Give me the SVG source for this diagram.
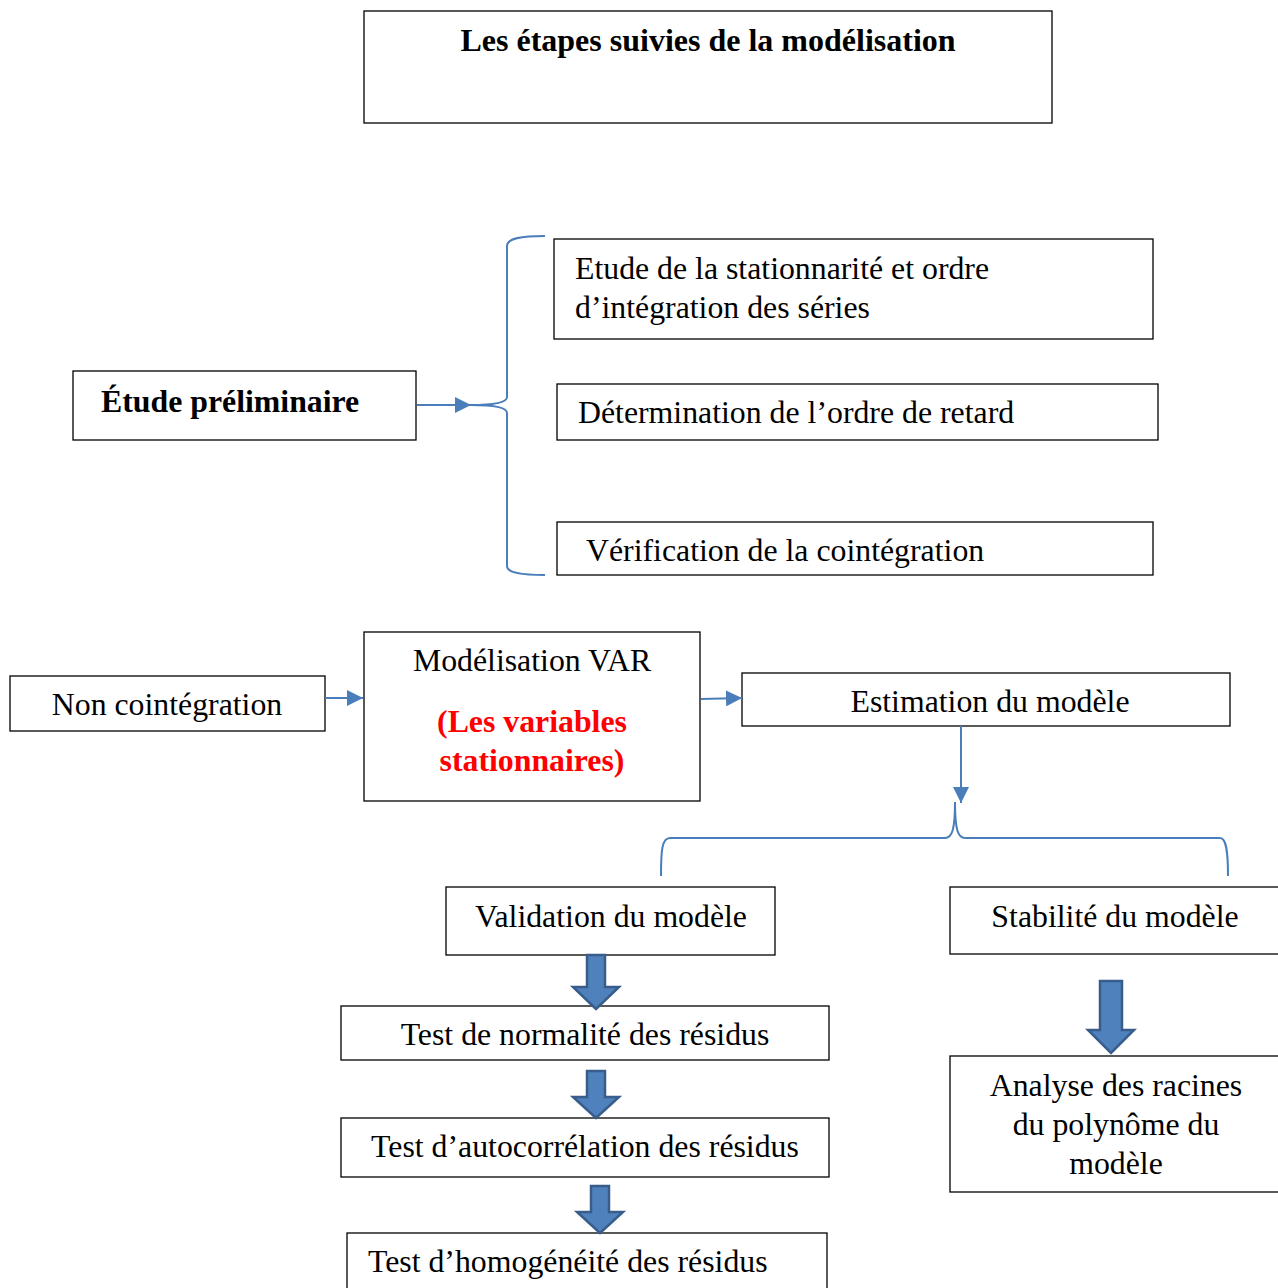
<svg xmlns="http://www.w3.org/2000/svg" width="1278" height="1288" viewBox="0 0 1278 1288">
<defs>
<style>
.box{fill:#fff;stroke:#000;stroke-width:1.3}
.t{font-family:"Liberation Serif","Times New Roman",serif;font-size:31.8px;fill:#000}
.b{font-weight:bold}
.c{text-anchor:middle}
.red{fill:#ff0000;font-weight:bold}
.con{fill:none;stroke:#4a7ebb;stroke-width:2}
.blk{fill:#4f81bd;stroke:#385d8a;stroke-width:2.5;stroke-linejoin:miter}
</style>
<marker id="ah" viewBox="0 0 16 16" refX="16" refY="8" markerWidth="16" markerHeight="16" markerUnits="userSpaceOnUse" orient="auto">
<path d="M0,0 L16,8 L0,16 Z" fill="#4a7ebb"/>
</marker>
</defs>
<rect width="1278" height="1288" fill="#fff"/>

<g id="title">
<rect class="box" x="364" y="11" width="688" height="112"/>
<text class="t b c" x="708" y="51" style="font-size:32px">Les étapes suivies de la modélisation</text>
</g>

<g id="etude-preliminaire">
<rect class="box" x="73" y="371" width="343" height="69"/>
<text class="t b" x="101" y="412" style="font-size:31.8px">Étude préliminaire</text>
</g>

<g id="stationnarite">
<rect class="box" x="554" y="239" width="599" height="100"/>
<text class="t" x="575" y="279">Etude de la stationnarité et ordre</text>
<text class="t" x="575" y="318">d’intégration des séries</text>
</g>

<g id="determination">
<rect class="box" x="557" y="384" width="601" height="56"/>
<text class="t" x="578" y="423">Détermination de l’ordre de retard</text>
</g>

<g id="verification">
<rect class="box" x="557" y="522" width="596" height="53"/>
<text class="t" x="586" y="561">Vérification de la cointégration</text>
</g>

<g id="non-cointegration">
<rect class="box" x="10" y="676" width="315" height="55"/>
<text class="t c" x="167" y="715">Non cointégration</text>
</g>

<g id="modelisation-var">
<rect class="box" x="364" y="632" width="336" height="169"/>
<text class="t c" x="532" y="671">Modélisation VAR</text>
<text class="t c red" x="532" y="732">(Les variables</text>
<text class="t c red" x="532" y="771">stationnaires)</text>
</g>

<g id="estimation">
<rect class="box" x="742" y="673" width="488" height="53"/>
<text class="t c" x="990" y="712">Estimation du modèle</text>
</g>

<g id="validation">
<rect class="box" x="446" y="887" width="329" height="68"/>
<text class="t c" x="611" y="927">Validation du modèle</text>
</g>

<g id="stabilite">
<rect class="box" x="950" y="887" width="340" height="67"/>
<text class="t c" x="1115" y="927">Stabilité du modèle</text>
</g>

<g id="normalite">
<rect class="box" x="341" y="1006" width="488" height="54"/>
<text class="t c" x="585" y="1045">Test de normalité des résidus</text>
</g>

<g id="autocorrelation">
<rect class="box" x="341" y="1118" width="488" height="59"/>
<text class="t c" x="585" y="1157">Test d’autocorrélation des résidus</text>
</g>

<g id="homogeneite">
<rect class="box" x="347" y="1233" width="480" height="70"/>
<text class="t" x="368" y="1272">Test d’homogénéité des résidus</text>
</g>

<g id="analyse">
<rect class="box" x="950" y="1056" width="340" height="136"/>
<text class="t c" x="1116" y="1096">Analyse des racines</text>
<text class="t c" x="1116" y="1135">du polynôme du</text>
<text class="t c" x="1116" y="1174">modèle</text>
</g>

<g id="connectors">
<line class="con" x1="417" y1="405" x2="471" y2="405" marker-end="url(#ah)"/>
<path class="con" d="M545,236 C522,236 507,238 507,246 L507,397 C507,403 492,405 471,405 C492,405 507,407 507,413 L507,566 C507,573 522,575 545,575"/>
<line class="con" x1="325" y1="698" x2="363" y2="698" marker-end="url(#ah)"/>
<line class="con" x1="701" y1="699" x2="742" y2="698" marker-end="url(#ah)"/>
<line class="con" x1="961" y1="726" x2="961" y2="803" marker-end="url(#ah)"/>
<path class="con" d="M661,876 C661,850 662,838 670,838 L945,838 C952,838 955,830 955,802 C955,830 958,838 965,838 L1220,838 C1226,838 1228,850 1228,876"/>
<path class="blk" d="M587,955 L605,955 L605,987 L619,987 L596,1009 L573,987 L587,987 Z"/>
<path class="blk" d="M587,1071 L605,1071 L605,1097 L619,1097 L596,1118 L573,1097 L587,1097 Z"/>
<path class="blk" d="M591,1186 L609,1186 L609,1212 L623,1212 L600,1233 L577,1212 L591,1212 Z"/>
<path class="blk" d="M1100,981 L1122,981 L1122,1030 L1134,1030 L1111,1053 L1088,1030 L1100,1030 Z"/>
</g>
</svg>
